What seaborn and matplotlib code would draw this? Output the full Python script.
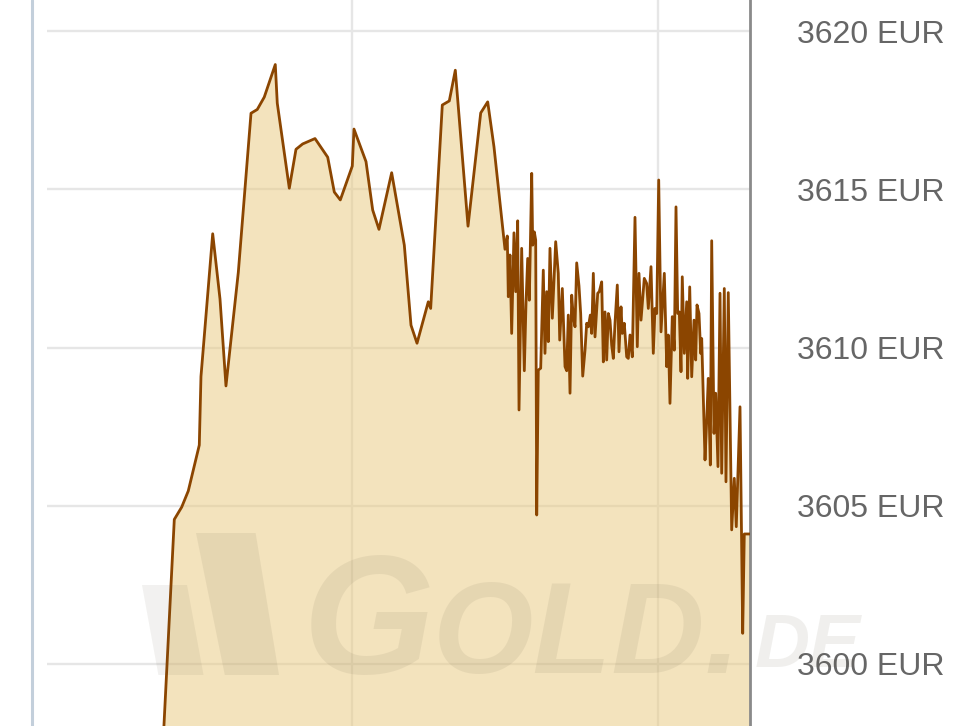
import matplotlib
matplotlib.use("Agg")
import matplotlib.pyplot as plt
from matplotlib.lines import Line2D
from matplotlib.patches import Polygon
import seaborn as sns
import pandas as pd

# minutes since chart start (vertical grid every 60 min)
minutes = [
    23.04, 25.16, 26.61, 27.90, 30.06, 30.39, 32.69, 34.12, 35.29, 37.71,
    40.20, 41.43, 42.80, 44.96, 45.35, 47.71, 49.02, 50.33, 52.75, 55.24,
    56.53, 57.71, 60.06, 60.39, 62.75, 64.06, 65.29, 67.78, 70.26, 71.57,
    72.75, 74.96, 75.43, 77.71, 79.08, 80.26, 82.75, 85.24, 86.61, 87.84,
    90.00, 90.45, 90.65, 90.98, 91.31, 91.76, 92.10, 92.49, 92.75, 93.27,
    93.79, 94.12, 94.45, 94.77, 95.24, 95.43, 95.75, 96.02, 96.22, 96.53,
    97.00, 97.51, 97.84, 98.18, 98.49, 98.82, 99.28, 99.94, 100.45, 100.73,
    101.24, 101.77, 102.10, 102.41, 102.75, 103.08, 103.39, 103.73, 104.06, 104.51,
    104.84, 105.24, 105.69, 106.02, 106.34, 106.73, 107.00, 107.32, 107.65, 108.18,
    108.49, 108.96, 109.28, 109.61, 109.94, 110.26, 110.59, 110.92, 111.24, 111.57,
    112.02, 112.35, 112.75, 113.00, 113.39, 113.86, 114.18, 114.51, 114.96, 115.49,
    115.94, 116.27, 116.67, 117.31, 117.78, 118.10, 118.63, 119.08, 119.41, 119.75,
    120.14, 120.59, 121.24, 121.71, 122.02, 122.35, 122.80, 123.20, 123.53, 123.86,
    124.18, 124.51, 124.76, 125.16, 125.63, 125.82, 126.22, 126.61, 127.06, 127.39,
    127.65, 128.04, 128.37, 128.57, 129.22, 129.55, 129.86, 130.26, 130.53, 130.98,
    131.31, 131.76, 132.16, 132.49, 133.00, 133.33, 133.78, 134.45, 134.96, 135.35,
    136.08, 136.61, 136.92, 138.04,
]

price_eur = [
    3597.76, 3604.57, 3604.96, 3605.47, 3606.92, 3609.09, 3613.60, 3611.54, 3608.79, 3612.38,
    3617.41, 3617.53, 3617.92, 3618.95, 3617.73, 3615.04, 3616.27, 3616.44, 3616.61, 3616.02,
    3614.92, 3614.67, 3615.74, 3616.91, 3615.88, 3614.35, 3613.74, 3615.53, 3613.24, 3610.71,
    3610.14, 3611.45, 3611.24, 3617.67, 3617.80, 3618.77, 3613.84, 3617.42, 3617.77, 3616.35,
    3613.11, 3613.53, 3611.61, 3612.93, 3610.45, 3613.63, 3611.77, 3614.01, 3608.03, 3613.14,
    3609.27, 3611.40, 3612.82, 3611.50, 3615.51, 3613.24, 3613.66, 3613.40, 3604.71, 3609.29,
    3609.35, 3612.45, 3609.82, 3611.77, 3610.19, 3613.14, 3610.93, 3613.35, 3612.35, 3610.24,
    3611.87, 3609.40, 3609.27, 3611.03, 3608.56, 3611.66, 3610.98, 3610.66, 3612.68, 3611.95,
    3611.08, 3609.10, 3609.92, 3610.77, 3610.66, 3611.03, 3610.45, 3612.35, 3610.34, 3611.72,
    3611.77, 3612.08, 3609.55, 3611.13, 3609.61, 3611.08, 3610.87, 3610.08, 3609.66, 3610.77,
    3611.98, 3609.87, 3611.29, 3610.45, 3610.77, 3609.71, 3609.66, 3610.40, 3609.71, 3614.12,
    3610.03, 3612.35, 3610.87, 3612.19, 3612.03, 3611.24, 3612.56, 3609.82, 3611.24, 3611.08,
    3615.30, 3610.50, 3612.35, 3609.40, 3610.40, 3608.24, 3610.98, 3609.92, 3614.45, 3611.08,
    3611.13, 3609.24, 3612.24, 3609.82, 3611.45, 3609.03, 3611.92, 3609.08, 3610.87, 3609.61,
    3611.35, 3611.08, 3609.82, 3610.29, 3606.45, 3607.71, 3609.03, 3606.29, 3613.38, 3607.29,
    3608.56, 3606.24, 3611.72, 3606.03, 3611.87, 3605.76, 3611.74, 3604.24, 3605.87, 3604.34,
    3608.13, 3600.97, 3604.11, 3604.11,
]

y_ticks = [3600, 3605, 3610, 3615, 3620]
y_tick_labels = ["3600 EUR", "3605 EUR", "3610 EUR", "3615 EUR", "3620 EUR"]
x_grid = [60, 120]

df = pd.DataFrame({"minute": minutes, "price": price_eur})

sns.set_theme(style="white")
plt.rcParams["font.family"] = ["Liberation Sans", "DejaVu Sans"]

W, H = 960, 726
fig = plt.figure(figsize=(W / 100, H / 100), dpi=100)
fig.patch.set_facecolor("white")
ax = fig.add_axes([47 / W, 0, 703 / W, 1])
ax.set_facecolor("white")

ylo, yhi = 3598.04, 3620.99
ax.set_xlim(0.2, 138.04)
ax.set_ylim(ylo, yhi)

ax.fill_between(df["minute"], df["price"], ylo, color="#e9c97d", alpha=0.5,
                linewidth=0, zorder=2)
sns.lineplot(data=df, x="minute", y="price", ax=ax, color="#8b4500",
             linewidth=2.0, zorder=3, estimator=None, sort=False)

ax.set_xticks(x_grid)
ax.set_xticklabels([])
ax.set_yticks(y_ticks)
ax.set_yticklabels(y_tick_labels)
ax.yaxis.tick_right()
ax.tick_params(axis="y", length=0, pad=34, labelsize=23, labelcolor="#666666")
ax.tick_params(axis="x", length=0)
ax.grid(True, color="#e6e6e6", linewidth=1.7)
ax.set_axisbelow(True)
ax.set_xlabel("")
ax.set_ylabel("")
for s in ["top", "bottom", "left"]:
    ax.spines[s].set_visible(False)
ax.spines["right"].set_color("#8a8a8a")
ax.spines["right"].set_linewidth(2.0)
for lbl in ax.get_yticklabels():
    lbl.set_horizontalalignment("left")

# left frame line
fig.add_artist(Line2D([32 / W, 32 / W], [0, 1], transform=fig.transFigure,
                      color="#c3cfdb", linewidth=2.2, zorder=5))

# watermark
wm_color = (0.38, 0.34, 0.26)
def fp(x, y):
    return (x / W, 1 - y / H)
bar1 = Polygon([fp(142, 585), fp(187, 585), fp(203.5, 675), fp(158.4, 675)],
               closed=True, transform=fig.transFigure, facecolor=wm_color,
               alpha=0.08, edgecolor="none", zorder=6)
bar2 = Polygon([fp(196, 533), fp(255.6, 533), fp(279, 675), fp(224.8, 675)],
               closed=True, transform=fig.transFigure, facecolor=wm_color,
               alpha=0.09, edgecolor="none", zorder=6)
fig.add_artist(bar1)
fig.add_artist(bar2)
wm_font = ["Liberation Sans"]
fig.text(303 / W, 1 - 673 / H, "G", family=wm_font, fontsize=122, fontweight="bold",
         style="italic", color=wm_color, alpha=0.09, ha="left", va="baseline", zorder=6)
fig.text(433 / W, 1 - 673 / H, "OLD.", family=wm_font, fontsize=93, fontweight="bold",
         style="italic", color=wm_color, alpha=0.09, ha="left", va="baseline", zorder=6)
fig.text(755 / W, 1 - 667 / H, "DE", family=wm_font, fontsize=55, fontweight="bold",
         style="italic", color=wm_color, alpha=0.09, ha="left", va="baseline", zorder=6)

fig.savefig("out.png", dpi=100, facecolor="white")
